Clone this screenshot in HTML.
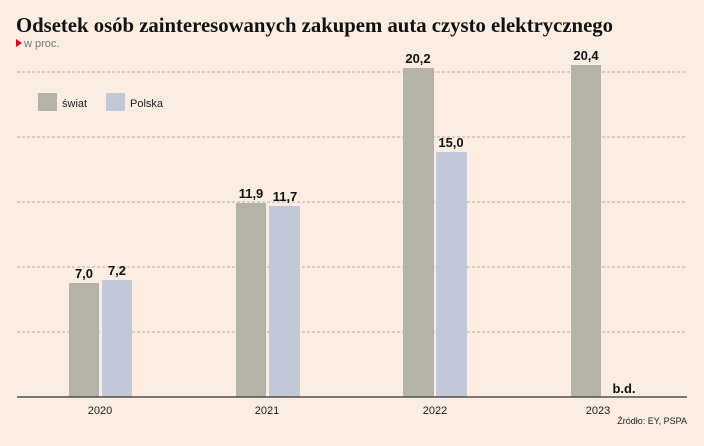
<!DOCTYPE html>
<html><head><meta charset="utf-8"><style>
body{margin:0;width:704px;height:441px;background:#fbede1;overflow:hidden;font-family:"Liberation Sans",sans-serif}
</style></head><body>
<svg width="704" height="441" xmlns="http://www.w3.org/2000/svg">
<rect width="704" height="441" fill="#fbede1"/>
<text x="16" y="32" font-family="Liberation Serif,serif" font-weight="bold" font-size="21" fill="#111" textLength="597" lengthAdjust="spacingAndGlyphs">Odsetek osób zainteresowanych zakupem auta czysto elektrycznego</text>
<polygon points="16,39 16,47 22,43" fill="#e0001b"/>
<text x="24" y="47" font-size="11" fill="#777">w proc.</text>
<g stroke="#b8b0a6" stroke-width="1" stroke-dasharray="3,2">
<line x1="17" x2="687" y1="72" y2="72"/><line x1="17" x2="687" y1="137" y2="137"/>
<line x1="17" x2="687" y1="202" y2="202"/><line x1="17" x2="687" y1="267" y2="267"/>
<line x1="17" x2="687" y1="332" y2="332"/></g>
<rect x="38" y="93" width="19" height="18" fill="#b3b3a8"/>
<text x="62" y="107" font-size="11" fill="#222">świat</text>
<rect x="106" y="93" width="19" height="18" fill="#c3c8d8"/>
<text x="130" y="107" font-size="11" fill="#222">Polska</text>
<g fill="#b3b3a8">
<rect x="69" y="283" width="30" height="114"/><rect x="236" y="203" width="30" height="194"/>
<rect x="403" y="68" width="31" height="329"/><rect x="571" y="65" width="30" height="332"/></g>
<g fill="#c3c8d8">
<rect x="102" y="280" width="30" height="117"/><rect x="269" y="206" width="31" height="191"/>
<rect x="436" y="152" width="31" height="245"/></g>
<g font-size="13" font-weight="bold" fill="#111" text-anchor="middle">
<text x="84" y="278">7,0</text><text x="117" y="275">7,2</text>
<text x="251" y="198">11,9</text><text x="285" y="201">11,7</text>
<text x="418" y="63">20,2</text><text x="451" y="147">15,0</text>
<text x="586" y="60">20,4</text><text x="624" y="393">b.d.</text></g>
<line x1="17" x2="687" y1="397" y2="397" stroke="#333" stroke-width="1.3"/>
<g font-size="11" fill="#222" text-anchor="middle">
<text x="100" y="414">2020</text><text x="267" y="414">2021</text>
<text x="435" y="414">2022</text><text x="598" y="414">2023</text></g>
<text x="687" y="424" font-size="9" fill="#222" text-anchor="end">Źródło: EY, PSPA</text>
</svg>
</body></html>
